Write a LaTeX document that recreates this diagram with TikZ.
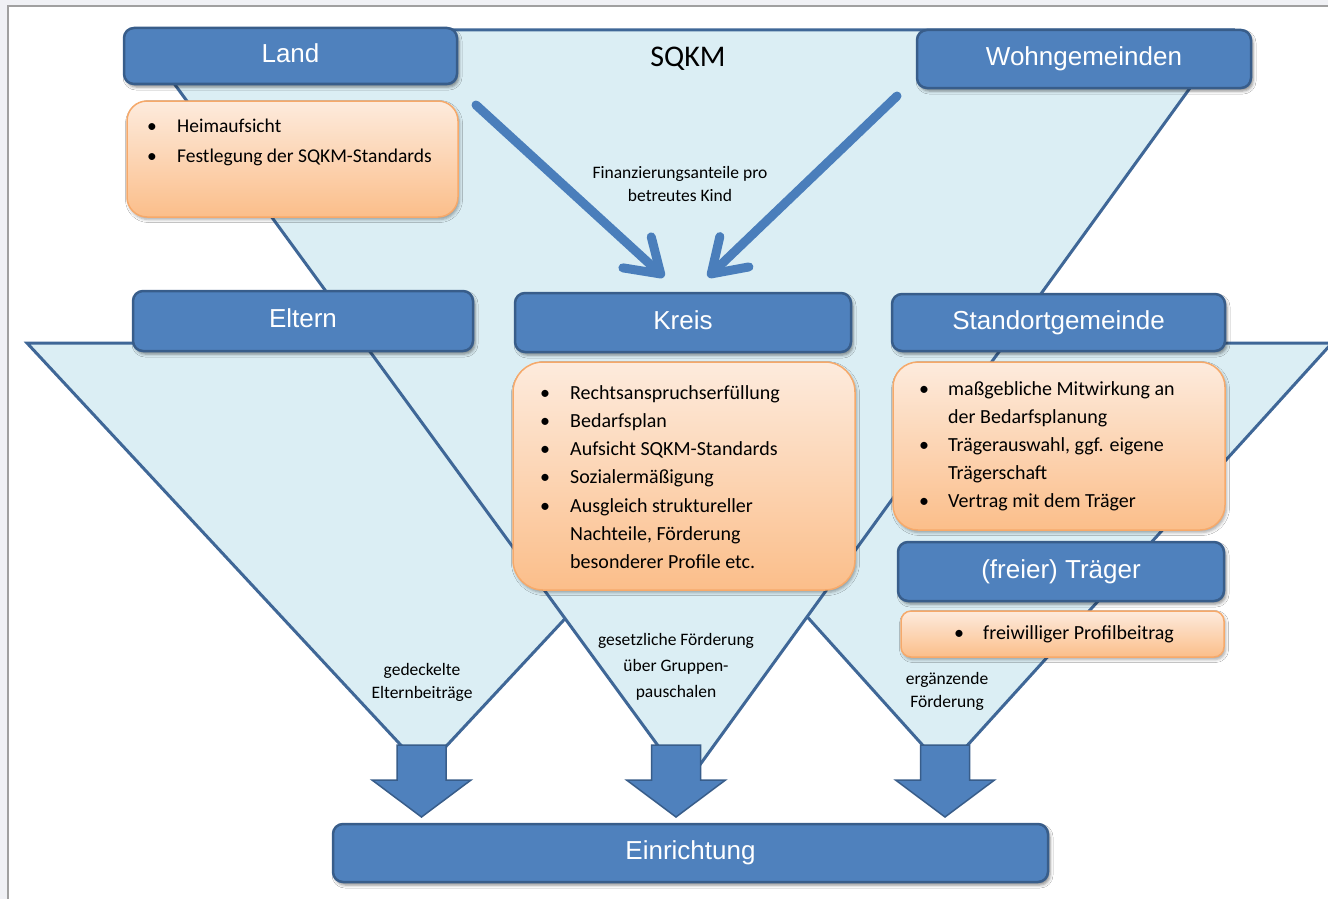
\documentclass[tikz,border=0pt]{standalone}
\usepackage{fontspec}
\setmainfont{Carlito}
\newfontfamily\arialf{Liberation Sans}
\usetikzlibrary{arrows.meta,shadows.blur}
\definecolor{triblue}{HTML}{DBEEF4}
\definecolor{edgeblue}{HTML}{3F6797}
\definecolor{boxblue}{HTML}{4F81BD}
\definecolor{boxedge}{HTML}{385D8A}
\definecolor{orTop}{HTML}{FDEBDD}
\definecolor{orBot}{HTML}{FBBE8A}
\definecolor{orEdge}{HTML}{F6A96A}
\definecolor{pagegray}{HTML}{F0F1F5}
\definecolor{framegray}{HTML}{A0A0A0}
\definecolor{arrblue}{HTML}{4A7EBB}
\begin{document}
\begin{tikzpicture}[x=1pt,y=-1pt,
  tri/.style={fill=triblue, draw=edgeblue, line width=3pt, line join=miter},
  bluebox/.style={rectangle, rounded corners=10pt, fill=boxblue, draw=boxedge, line width=2.5pt, text=white,
    font=\arialf\fontsize{26}{30}\selectfont, inner sep=0pt, text height=19pt, text depth=6pt,
    blur shadow={shadow xshift=2pt, shadow yshift=-3pt, shadow blur radius=3pt, shadow opacity=45}},
  orbox/.style={rectangle, top color=orTop, bottom color=orBot, draw=orEdge, line width=1.5pt, inner sep=0pt,
    blur shadow={shadow xshift=1.5pt, shadow yshift=-2.5pt, shadow blur radius=3pt, shadow opacity=35}},
  listtext/.style={anchor=base west, inner sep=0pt, text=black},
  lbl/.style={align=center, inner sep=0pt, text=black},
  blockarr/.style={fill=boxblue, draw=boxedge, line width=1.5pt, line join=miter},
  bigarrow/.style={draw=arrblue, line width=9pt, line cap=round,
    -{Straight Barb[length=32pt,width=42pt,line cap=round,line join=round]}}
]
\useasboundingbox (0,0) rectangle (1328,899);
% page
\fill[pagegray] (0,0) rectangle (1328,899);
\fill[white] (8,6) rectangle (1332,903);
\draw[framegray, line width=1.5pt] (8,903) -- (8,6) -- (1332,6);

% triangles
\draw[tri] (27,343) -- (822,343) -- (424,770) -- cycle;
\draw[tri] (561,343) -- (1332,343) -- (945,770) -- cycle;
\draw[tri] (135,30) -- (1232,30) -- (686,784) -- cycle;

% block arrows
\foreach \cx in {421.5,676,945}{
  \draw[blockarr] ({\cx-24.5},745) -- ({\cx+24.5},745) -- ({\cx+24.5},780) -- ({\cx+49.5},780)
    -- (\cx,817) -- ({\cx-49.5},780) -- ({\cx-24.5},780) -- cycle;
}

% arrows Land/Wohngemeinden -> Kreis
\coordinate (a1s) at (476,105);
\coordinate (a1e) at (664,277);
\coordinate (a2s) at (897,96);
\coordinate (a2e) at (708,277);
\draw[bigarrow] (a1s) -- (a1e);
\draw[bigarrow] (a2s) -- (a2e);

% blue boxes
\node[bluebox, minimum width=333pt, minimum height=56pt] (land) at (290.5,56) {Land};
\node[bluebox, minimum width=334pt, minimum height=58pt] (wohn) at (1084,59) {Wohngemeinden};
\node[bluebox, minimum width=340pt, minimum height=60pt] (eltern) at (303,321) {Eltern};
\node[bluebox, minimum width=336pt, minimum height=59pt] (kreis) at (683,322.5) {Kreis};
\node[bluebox, minimum width=333pt, minimum height=57pt] (standort) at (1058.5,322.5) {Standortgemeinde};
\node[bluebox, minimum width=326pt, minimum height=59pt] (traeger) at (1061,571.5) {(freier) Träger};
\node[bluebox, minimum width=715pt, minimum height=58pt] (einr) at (690.5,853) {Einrichtung};

% orange boxes
\node[orbox, rounded corners=20pt, minimum width=331pt, minimum height=116pt] (landor) at (292.5,159) {};
\node[orbox, rounded corners=30pt, minimum width=342pt, minimum height=228pt] (kreisor) at (684,476) {};
\node[orbox, rounded corners=25pt, minimum width=332pt, minimum height=168pt] (standor) at (1059,446) {};
\node[orbox, rounded corners=10pt, minimum width=323pt, minimum height=46pt] (traegor) at (1062.5,634) {};

% lists
\node[listtext, font=\fontsize{19.5}{30}\selectfont] (landlist) at (147,132)
  {\begin{tabular}[t]{@{}p{30pt}@{}l@{}}
   \textbullet & Heimaufsicht\\
   \textbullet & Festlegung der SQKM-Standards
   \end{tabular}};
\node[listtext, font=\fontsize{20}{28.3}\selectfont] (kreislist) at (540,399)
  {\begin{tabular}[t]{@{}p{30pt}@{}l@{}}
   \textbullet & Rechtsanspruchserfüllung\\
   \textbullet & Bedarfsplan\\
   \textbullet & Aufsicht SQKM-Standards\\
   \textbullet & Sozialermäßigung\\
   \textbullet & Ausgleich struktureller\\
   & Nachteile, Förderung\\
   & besonderer Profile etc.
   \end{tabular}};
\node[listtext, font=\fontsize{20}{28}\selectfont] (standlist) at (919,395)
  {\begin{tabular}[t]{@{}p{29pt}@{}l@{}}
   \textbullet & maßgebliche Mitwirkung an\\
   & der Bedarfsplanung\\
   \textbullet & Trägerauswahl, ggf. eigene\\
   & Trägerschaft\\
   \textbullet & Vertrag mit dem Träger
   \end{tabular}};
\node[listtext, font=\fontsize{20}{28}\selectfont] (traeglist) at (954,639)
  {\begin{tabular}[t]{@{}p{29pt}@{}l@{}}
   \textbullet & freiwilliger Profilbeitrag
   \end{tabular}};

% labels
\node[font=\fontsize{30}{30}\selectfont, inner sep=0pt] (sqkm) at (688,59) {SQKM};
\node[lbl, font=\fontsize{17.5}{23}\selectfont] (fin) at (680,184) {Finanzierungsanteile pro\\betreutes Kind};
\node[lbl, font=\fontsize{17.5}{23}\selectfont] (ged) at (422,682) {gedeckelte\\Elternbeiträge};
\node[lbl, font=\fontsize{17.5}{26}\selectfont] (ges) at (676,667) {gesetzliche Förderung\\über Gruppen-\\pauschalen};
\node[lbl, font=\fontsize{17.5}{23}\selectfont] (erg) at (947,691) {ergänzende\\Förderung};
\end{tikzpicture}
\end{document}
